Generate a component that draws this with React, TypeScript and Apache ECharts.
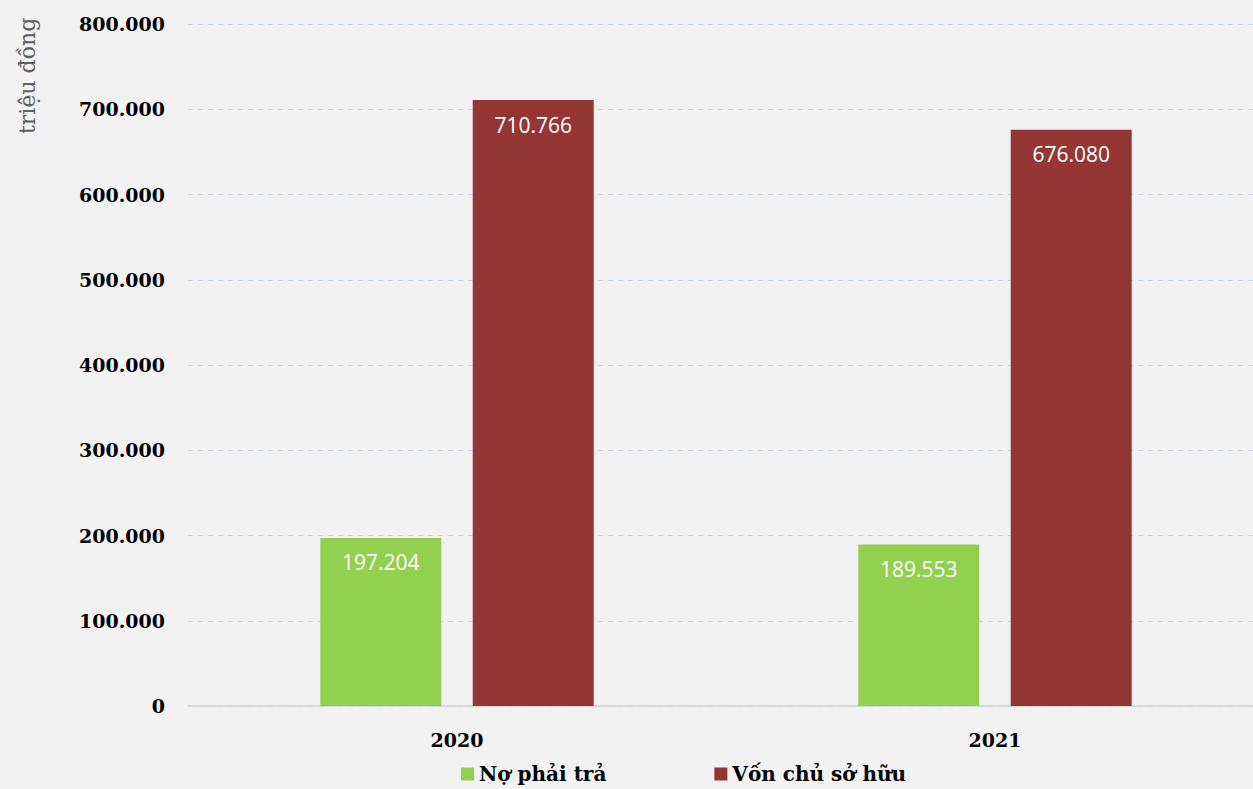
import React, { useEffect, useRef } from "react";
import * as echarts from "echarts";

const categories = ["2020", "2021"];
const noPhaiTra = [197204, 189553];
const vonChuSoHuu = [710766, 676080];
const seriesNames = ["Nợ phải trả", "Vốn chủ sở hữu"];
const yAxisName = "triệu đồng";

const fmt = (v: number) => String(Math.round(v)).replace(/\B(?=(\d{3})+(?!\d))/g, ".");

export default function App() {
  const ref = useRef<HTMLDivElement>(null);
  useEffect(() => {
    if (!ref.current) return;
    const chart = echarts.init(ref.current, undefined, { renderer: "svg" });
    const serif = "'DejaVu Serif', 'Liberation Serif', serif";
    const labelCfg = {
      show: true,
      position: "insideTop",
      distance: 14,
      color: "#ffffff",
      fontSize: 21,
      fontFamily: "'Open Sans', 'Noto Sans', sans-serif",
      formatter: (p: any) => fmt(p.value),
    };
    chart.setOption({
      animation: false,
      backgroundColor: "#f2f2f2",
      grid: { left: 188, top: 24, right: 0, bottom: 83, containLabel: false },
      legend: {
        bottom: 0,
        left: 456,
        itemWidth: 13,
        itemHeight: 13,
        itemGap: 108,
        icon: "rect",
        textStyle: { fontFamily: serif, fontWeight: "bold", fontSize: 20, color: "#000" },
        data: seriesNames,
      },
      xAxis: {
        type: "category",
        data: categories,
        axisLine: { lineStyle: { color: "#d0d0d0", width: 1.5 } },
        axisTick: { show: false },
        axisLabel: { fontFamily: serif, fontWeight: "bold", fontSize: 19, color: "#000", margin: 24 },
      },
      yAxis: {
        type: "value",
        min: 0,
        max: 800000,
        interval: 100000,
        axisLabel: {
          fontFamily: serif,
          fontWeight: "bold",
          fontSize: 19,
          color: "#000",
          margin: 23,
          formatter: (v: number) => fmt(v),
        },
        splitLine: { lineStyle: { color: "#c9d6ea", type: [5, 5], width: 1 } },
        axisLine: { show: false },
        axisTick: { show: false },
      },
      graphic: [
        {
          type: "text",
          x: 16,
          y: 134,
          rotation: Math.PI / 2,
          style: {
            text: yAxisName,
            fontFamily: serif,
            fontSize: 22,
            fill: "#606060",
          },
        },
      ],
      series: [
        {
          name: seriesNames[0],
          type: "bar",
          data: noPhaiTra,
          barWidth: 121,
          barGap: "26%",
          itemStyle: { color: "#92d050" },
          label: labelCfg,
        },
        {
          name: seriesNames[1],
          type: "bar",
          data: vonChuSoHuu,
          barWidth: 121,
          barGap: "26%",
          itemStyle: { color: "#943634" },
          label: labelCfg,
        },
      ],
    });
    return () => chart.dispose();
  }, []);
  return <div ref={ref} style={{ position: "fixed", left: 0, top: 0, width: 1264, height: 789 }} />;
}
